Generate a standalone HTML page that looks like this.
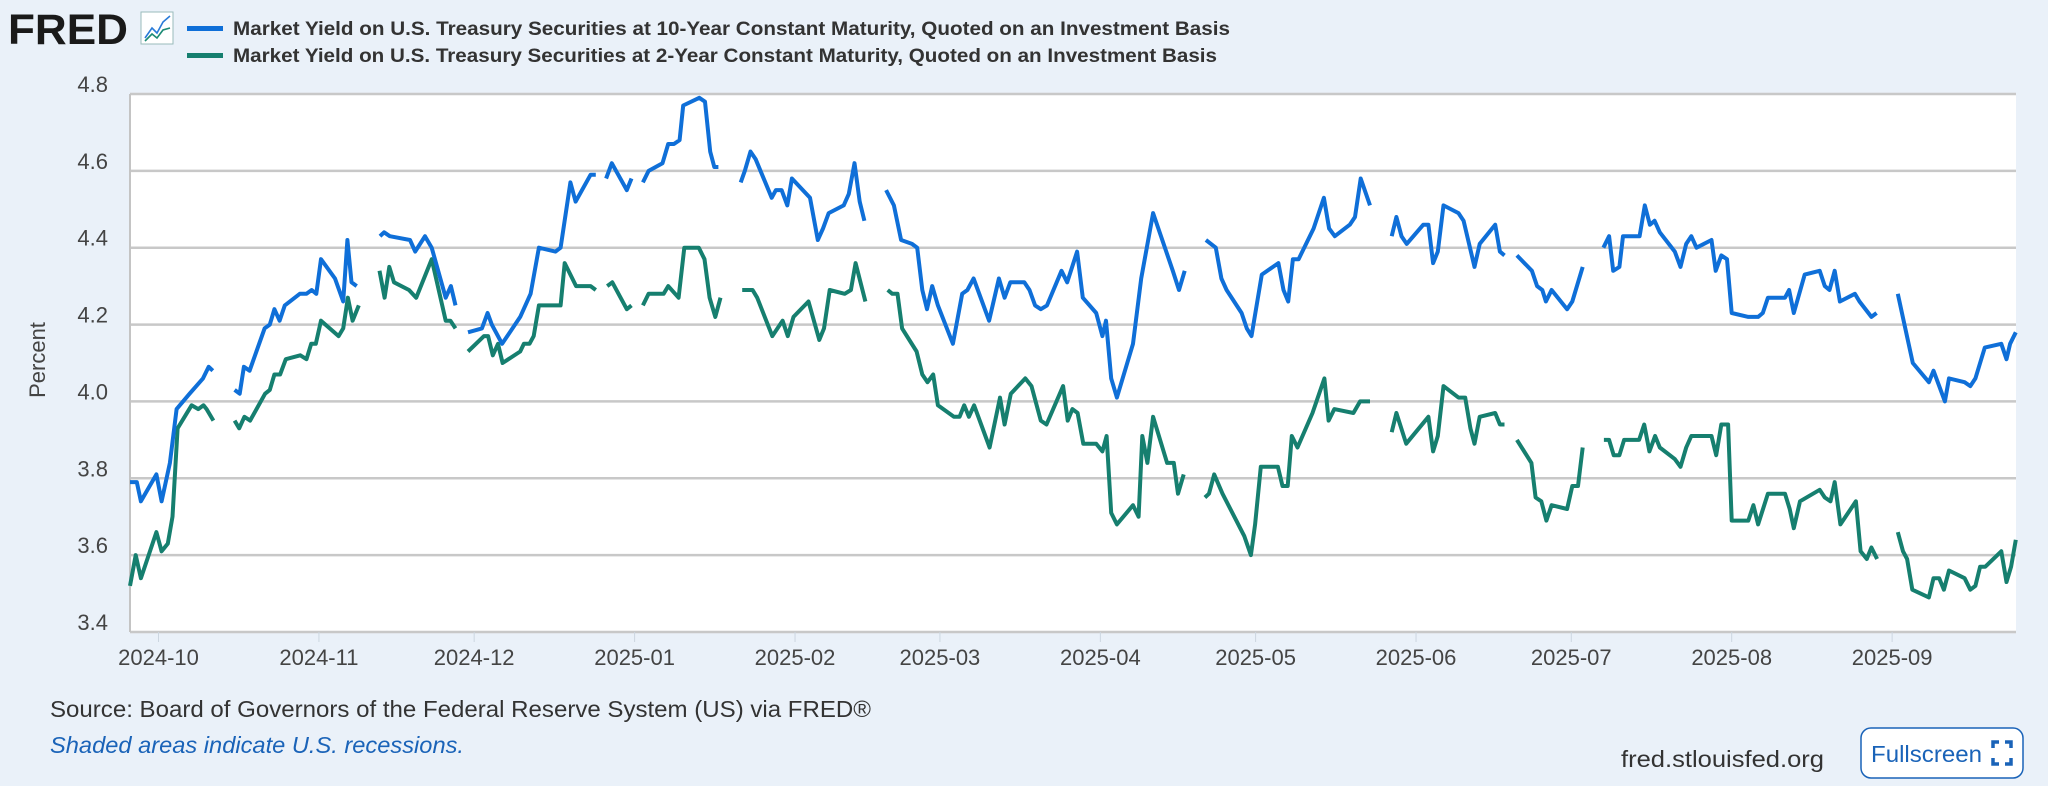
<!DOCTYPE html>
<html><head><meta charset="utf-8"><style>
html,body{margin:0;padding:0;background:#eaf1f9;}
svg{display:block;font-family:"Liberation Sans",sans-serif;}
</style></head><body>
<svg id="chart" width="2048" height="786" viewBox="0 0 2048 786" xmlns="http://www.w3.org/2000/svg">
<rect x="0" y="0" width="2048" height="786" fill="#eaf1f9"/>
<g>
<text x="8" y="44" font-size="43" font-weight="bold" fill="#1a1a1a" textLength="120" lengthAdjust="spacingAndGlyphs">FRED</text>
<rect x="141" y="12" width="32" height="32" fill="#fff" stroke="#9bb" stroke-width="1"/>
<polyline points="145,38 152,28 157,33 163,22 170,16" fill="none" stroke="#2a7bd8" stroke-width="1.6"/>
<polyline points="145,41 152,34 157,38 163,30 170,28" fill="none" stroke="#1b8a74" stroke-width="1.6"/>
</g>
<g>
<g>
<rect x="187" y="26" width="36" height="5" fill="#0f6fd8"/>
<text x="233" y="35" font-size="19" font-weight="bold" fill="#333" textLength="997" lengthAdjust="spacingAndGlyphs">Market Yield on U.S. Treasury Securities at 10-Year Constant Maturity, Quoted on an Investment Basis</text>
</g>
<g>
<rect x="187" y="53" width="36" height="5" fill="#167f6f"/>
<text x="233" y="62" font-size="19" font-weight="bold" fill="#333" textLength="984" lengthAdjust="spacingAndGlyphs">Market Yield on U.S. Treasury Securities at 2-Year Constant Maturity, Quoted on an Investment Basis</text>
</g>
</g>
<rect x="130" y="94" width="1886" height="538" fill="#fff"/>
<g id="grid"></g>
<g id="yaxis"></g>
<g id="xaxis"></g>
<line x1="130" y1="94" x2="130" y2="632" stroke="#c4c4c4" stroke-width="2"/>
<g id="series"></g>
<text transform="translate(45,360) rotate(-90)" text-anchor="middle" font-size="22" fill="#444">Percent</text>
<text x="50" y="717" font-size="23" fill="#333" textLength="821" lengthAdjust="spacingAndGlyphs">Source: Board of Governors of the Federal Reserve System (US) via FRED®</text>
<text x="50" y="753" font-size="23" font-style="italic" fill="#1a63b8" textLength="414" lengthAdjust="spacingAndGlyphs">Shaded areas indicate U.S. recessions.</text>
<text x="1621" y="767" font-size="23" fill="#333" textLength="203" lengthAdjust="spacingAndGlyphs">fred.stlouisfed.org</text>
<g>
<rect x="1861" y="728" width="162" height="50" rx="10" fill="#fff" stroke="#1a63b8" stroke-width="1.5"/>
<text x="1871" y="762" font-size="23" fill="#1a63b8" textLength="111" lengthAdjust="spacingAndGlyphs">Fullscreen</text>
<path d="M1993 748v-6h6M2005 742h6v6M2011 758v6h-6M1999 764h-6v-6" fill="none" stroke="#1a63b8" stroke-width="3.5"/>
</g>
</svg>
<script>
// Days since 2024-10-01 and yields (percent); null = gap
const yTicks = [3.4, 3.6, 3.8, 4.0, 4.2, 4.4, 4.6, 4.8];
const xTickLabels = ["2024-10","2024-11","2024-12","2025-01","2025-02","2025-03","2025-04","2025-05","2025-06","2025-07","2025-08","2025-09"];
const xTickDays = [0,31,61,92,123,151,182,212,243,273,304,335];
const days10 = [-5.5,-4.2,-3.4,-0.4,0.6,2.2,3.5,6.0,7.3,8.6,9.7,10.5,null,14.7,15.7,16.5,17.6,20.5,21.5,22.4,23.4,24.4,27.3,28.6,29.6,30.5,31.4,34.1,35.7,36.5,37.3,38.3,null,42.8,43.6,44.7,48.6,49.6,51.5,52.8,55.5,56.5,57.4,null,59.8,62.5,63.6,64.4,66.4,69.9,71.9,73.5,76.7,77.7,78.7,79.6,80.6,83.5,84.5,null,86.5,87.6,90.5,91.4,null,93.6,94.7,97.4,98.5,99.6,100.7,101.4,104.5,105.6,106.6,107.4,108.2,null,112.5,113.3,114.4,115.4,118.5,119.3,120.4,121.5,122.4,125.9,127.4,128.4,129.5,132.4,133.4,134.5,135.5,136.4,null,140.6,142.1,143.5,145.6,146.6,147.6,148.5,149.5,150.6,153.5,155.3,156.3,157.5,160.5,162.4,163.5,164.6,167.3,168.3,169.4,170.5,171.7,174.5,175.6,177.5,178.6,181.2,182.4,183.1,184.1,185.2,188.3,189.9,192.2,196.0,197.2,198.3,null,202.4,204.3,205.4,206.4,209.3,210.3,211.2,213.2,216.4,217.4,218.3,219.2,220.3,223.2,225.2,226.2,227.3,230.2,231.2,232.3,234.1,null,238.3,239.2,240.2,241.2,244.4,245.4,246.3,247.2,248.3,251.2,252.2,254.3,255.3,258.3,259.2,260.1,null,262.5,265.4,266.4,267.4,268.1,269.2,272.2,273.2,275.2,null,279.2,280.3,281.1,282.3,283.0,286.2,287.2,288.2,289.1,290.1,293.0,294.1,295.2,296.2,297.2,300.1,300.9,302.0,303.1,304.0,307.2,309.1,310.0,311.0,314.3,315.1,316.0,318.1,321.0,322.0,322.9,323.9,324.9,327.8,328.7,331.0,332.0,null,336.1,339.0,342.1,343.0,345.2,346.0,349.0,350.1,351.1,352.9,356.1,357.1,357.8,358.9];
const yield10 = [3.79,3.79,3.74,3.81,3.74,3.84,3.98,4.02,4.04,4.06,4.09,4.08,null,4.03,4.02,4.09,4.08,4.19,4.20,4.24,4.21,4.25,4.28,4.28,4.29,4.28,4.37,4.32,4.26,4.42,4.31,4.30,null,4.43,4.44,4.43,4.42,4.39,4.43,4.40,4.27,4.30,4.25,null,4.18,4.19,4.23,4.20,4.15,4.22,4.28,4.40,4.39,4.40,4.49,4.57,4.52,4.59,4.59,null,4.58,4.62,4.55,4.58,null,4.57,4.60,4.62,4.67,4.67,4.68,4.77,4.79,4.78,4.65,4.61,4.61,null,4.57,4.60,4.65,4.63,4.53,4.55,4.55,4.51,4.58,4.53,4.42,4.45,4.49,4.51,4.54,4.62,4.52,4.47,null,4.55,4.51,4.42,4.41,4.40,4.29,4.24,4.30,4.25,4.15,4.28,4.29,4.32,4.21,4.32,4.27,4.31,4.31,4.29,4.25,4.24,4.25,4.34,4.31,4.39,4.27,4.23,4.17,4.21,4.06,4.01,4.15,4.32,4.49,4.34,4.29,4.34,null,4.42,4.40,4.32,4.29,4.23,4.19,4.17,4.33,4.36,4.29,4.26,4.37,4.37,4.45,4.53,4.45,4.43,4.46,4.48,4.58,4.51,null,4.43,4.48,4.43,4.41,4.46,4.46,4.36,4.39,4.51,4.49,4.47,4.35,4.41,4.46,4.39,4.38,null,4.38,4.34,4.30,4.29,4.26,4.29,4.24,4.26,4.35,null,4.40,4.43,4.34,4.35,4.43,4.43,4.51,4.46,4.47,4.44,4.39,4.35,4.41,4.43,4.40,4.42,4.34,4.38,4.37,4.23,4.22,4.22,4.23,4.27,4.27,4.29,4.23,4.33,4.34,4.30,4.29,4.34,4.26,4.28,4.26,4.22,4.23,null,4.28,4.10,4.05,4.08,4.00,4.06,4.05,4.04,4.06,4.14,4.15,4.11,4.15,4.18];
const days2 = [-5.5,-4.4,-3.4,-0.4,0.6,1.8,2.7,3.7,6.4,7.7,8.7,9.3,10.6,null,14.7,15.6,16.6,17.7,20.6,21.5,22.4,23.5,24.6,27.4,28.6,29.5,30.4,31.4,34.8,35.7,36.6,37.5,38.7,null,42.7,43.7,44.6,45.5,48.4,49.8,52.8,55.5,56.4,57.4,null,59.8,62.9,63.7,64.6,65.6,66.5,69.9,70.6,71.7,72.5,73.5,77.7,78.5,80.7,83.5,84.5,null,86.7,87.7,90.5,91.4,null,93.6,94.7,97.6,98.5,100.5,101.6,104.4,105.5,106.5,107.6,108.6,null,112.8,114.8,115.7,118.6,120.6,121.6,122.7,125.6,127.7,128.6,129.7,132.6,133.8,134.7,136.6,null,140.9,141.8,142.8,143.7,146.5,147.6,148.6,149.7,150.6,153.7,154.8,155.7,156.6,157.6,160.6,162.6,163.5,164.7,167.5,168.7,170.5,171.6,174.8,175.7,176.6,177.6,178.7,181.2,182.4,183.2,184.1,185.2,188.3,189.4,190.1,191.1,192.2,194.9,196.2,197.0,198.1,null,202.2,203.0,204.0,205.6,209.8,211.1,211.9,213.0,216.3,217.2,218.2,219.0,220.1,223.0,225.3,226.1,227.2,230.9,232.2,234.1,null,238.3,239.2,241.1,245.4,246.3,247.2,248.3,251.2,252.5,253.5,254.3,255.3,258.3,259.2,260.1,null,262.5,265.3,266.1,267.2,268.2,269.2,272.2,273.2,274.3,275.2,null,279.3,280.3,281.2,282.3,283.2,286.1,287.1,288.1,289.2,290.1,293.0,294.1,295.2,296.2,300.1,301.0,302.0,303.3,304.0,307.2,308.2,309.1,311.0,314.3,315.2,316.0,317.2,321.0,322.0,323.1,323.9,325.0,328.0,328.9,330.1,331.0,332.1,null,336.1,337.1,337.9,338.9,342.1,343.0,344.1,345.0,346.0,349.0,350.1,351.1,352.0,353.0,356.1,357.1,358.0,358.9];
const yield2 = [3.52,3.60,3.54,3.66,3.61,3.63,3.70,3.93,3.99,3.98,3.99,3.98,3.95,null,3.95,3.93,3.96,3.95,4.02,4.03,4.07,4.07,4.11,4.12,4.11,4.15,4.15,4.21,4.17,4.19,4.27,4.21,4.25,null,4.34,4.27,4.35,4.31,4.29,4.27,4.37,4.21,4.21,4.19,null,4.13,4.17,4.17,4.12,4.15,4.10,4.13,4.15,4.15,4.17,4.25,4.25,4.36,4.30,4.30,4.29,null,4.30,4.31,4.24,4.25,null,4.25,4.28,4.28,4.30,4.27,4.40,4.40,4.37,4.27,4.22,4.27,null,4.29,4.29,4.27,4.17,4.21,4.17,4.22,4.26,4.16,4.19,4.29,4.28,4.29,4.36,4.26,null,4.29,4.28,4.28,4.19,4.13,4.07,4.05,4.07,3.99,3.96,3.96,3.99,3.96,3.99,3.88,4.01,3.94,4.02,4.06,4.04,3.95,3.94,4.04,3.95,3.98,3.97,3.89,3.89,3.87,3.91,3.71,3.68,3.73,3.70,3.91,3.84,3.96,3.84,3.84,3.76,3.81,null,3.75,3.76,3.81,3.76,3.65,3.60,3.68,3.83,3.83,3.78,3.78,3.91,3.88,3.97,4.06,3.95,3.98,3.97,4.00,4.00,null,3.92,3.97,3.89,3.96,3.87,3.91,4.04,4.01,4.01,3.93,3.89,3.96,3.97,3.94,3.94,null,3.90,3.84,3.75,3.74,3.69,3.73,3.72,3.78,3.78,3.88,null,3.90,3.90,3.86,3.86,3.90,3.90,3.94,3.87,3.91,3.88,3.85,3.83,3.88,3.91,3.91,3.86,3.94,3.94,3.69,3.69,3.73,3.68,3.76,3.76,3.72,3.67,3.74,3.77,3.75,3.74,3.79,3.68,3.74,3.61,3.59,3.62,3.59,null,3.66,3.61,3.59,3.51,3.49,3.54,3.54,3.51,3.56,3.54,3.51,3.52,3.57,3.57,3.61,3.53,3.57,3.64];

const NS = "http://www.w3.org/2000/svg";
const PL = 130, PR = 2016, PT = 94, PB = 632;
const DAY0 = 158.5, PXDAY = 5.175;
const YMIN = 3.4, YMAX = 4.8;
function xScale(d){ return DAY0 + d * PXDAY; }
function yScale(v){ return PB - (v - YMIN) / (YMAX - YMIN) * (PB - PT); }

const grid = document.getElementById('grid');
const yaxis = document.getElementById('yaxis');
yTicks.forEach(function(t){
  const y = yScale(t);
  const ln = document.createElementNS(NS,'line');
  ln.setAttribute('x1', PL); ln.setAttribute('x2', PR);
  ln.setAttribute('y1', y); ln.setAttribute('y2', y);
  ln.setAttribute('stroke', '#c8c8c8'); ln.setAttribute('stroke-width', '2.5');
  
  
  grid.appendChild(ln);
  const tx = document.createElementNS(NS,'text');
  tx.setAttribute('x', 108); tx.setAttribute('y', y - 2);
  tx.setAttribute('text-anchor', 'end'); tx.setAttribute('font-size', '22');
  tx.setAttribute('fill', '#444');
  tx.textContent = t.toFixed(1);
  
  
  yaxis.appendChild(tx);
});

const xaxis = document.getElementById('xaxis');
xTickLabels.forEach(function(lbl, i){
  const x = xScale(xTickDays[i]);
  const tk = document.createElementNS(NS,'line');
  tk.setAttribute('x1', x); tk.setAttribute('x2', x);
  tk.setAttribute('y1', PB); tk.setAttribute('y2', PB + 10);
  tk.setAttribute('stroke', '#ccd6e0'); tk.setAttribute('stroke-width', '1');
  
  
  xaxis.appendChild(tk);
  const tx = document.createElementNS(NS,'text');
  tx.setAttribute('x', x); tx.setAttribute('y', 665);
  tx.setAttribute('text-anchor', 'middle'); tx.setAttribute('font-size', '22');
  tx.setAttribute('fill', '#444');
  tx.textContent = lbl;
  
  
  xaxis.appendChild(tx);
});

const series = document.getElementById('series');
function drawSeries(days, vals, color, name){
  let d = '', pen = false;
  for (let i = 0; i < days.length; i++){
    if (days[i] === null || vals[i] === null){ pen = false; continue; }
    d += (pen ? 'L' : 'M') + xScale(days[i]).toFixed(1) + ' ' + yScale(vals[i]).toFixed(1) + ' ';
    pen = true;
  }
  const p = document.createElementNS(NS,'path');
  p.setAttribute('d', d);
  p.setAttribute('fill', 'none'); p.setAttribute('stroke', color);
  p.setAttribute('stroke-width', '4'); p.setAttribute('stroke-linejoin', 'round');
  
  
  series.appendChild(p);
}
drawSeries(days2, yield2, '#167f6f', 'line-2-year-yield');
drawSeries(days10, yield10, '#0f6fd8', 'line-10-year-yield');
</script>
</body></html>
